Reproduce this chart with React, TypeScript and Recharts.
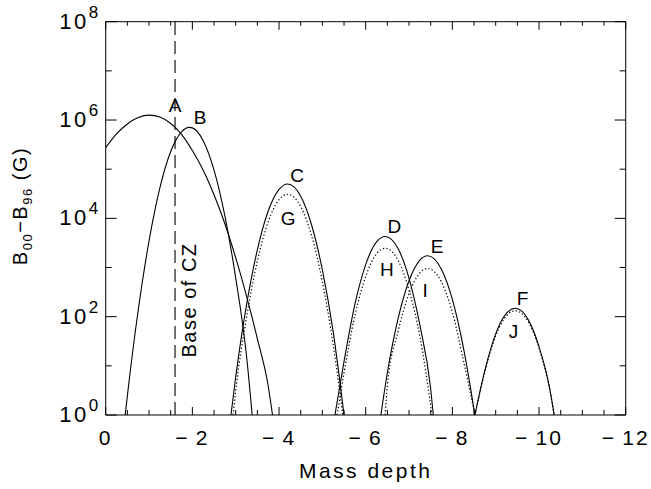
import { LineChart, Line, XAxis, YAxis, ReferenceLine, ReferenceDot } from "recharts";

// mass depth (x) and log10 of field strength (y)
const aDepth = [0, -0.25, -0.5, -0.75, -1.0, -1.25, -1.5, -1.75, -2.0, -2.25, -2.5, -2.75, -3.0, -3.25, -3.5, -3.75, -3.85];
const aLog = [5.44, 5.72, 5.92, 6.05, 6.1, 6.06, 5.93, 5.71, 5.38, 4.98, 4.48, 3.89, 3.2, 2.42, 1.55, 0.59, 0];

const bDepth = [-0.45, -0.5, -0.75, -1.0, -1.25, -1.5, -1.75, -1.93, -2.0, -2.25, -2.5, -2.75, -3.0, -3.25, -3.38];
const bLog = [0, 0.39, 2.13, 3.54, 4.62, 5.36, 5.76, 5.85, 5.84, 5.58, 4.98, 4.05, 2.79, 1.2, 0];

const cDepth = [-2.89, -3.0, -3.25, -3.5, -3.75, -4.0, -4.2, -4.5, -4.75, -5.0, -5.25, -5.5];
const cLog = [0, 0.77, 2.24, 3.36, 4.15, 4.59, 4.7, 4.45, 3.87, 2.95, 1.69, 0];

const gDepth = [-2.94, -3.0, -3.25, -3.5, -3.75, -4.0, -4.2, -4.5, -4.75, -5.0, -5.25, -5.47];
const gLog = [0, 0.49, 1.98, 3.13, 3.93, 4.38, 4.49, 4.24, 3.65, 2.71, 1.43, 0];

const dDepth = [-5.29, -5.5, -5.75, -6.0, -6.25, -6.45, -6.75, -7.0, -7.25, -7.5, -7.56];
const dLog = [0, 1.09, 2.25, 3.06, 3.52, 3.63, 3.38, 2.78, 1.83, 0.53, 0];

const hDepth = [-5.34, -5.5, -5.75, -6.0, -6.25, -6.45, -6.75, -7.0, -7.25, -7.53];
const hLog = [0, 0.86, 2.02, 2.82, 3.28, 3.39, 3.14, 2.54, 1.6, 0];

const eDepth = [-6.35, -6.5, -6.75, -7.0, -7.25, -7.43, -7.75, -8.0, -8.25, -8.52];
const eLog = [0, 0.86, 1.97, 2.73, 3.15, 3.24, 2.96, 2.35, 1.39, 0];

const iDepth = [-6.45, -6.5, -6.75, -7.0, -7.25, -7.43, -7.75, -8.0, -8.25, -8.52];
const iLog = [0, 0.6, 1.71, 2.47, 2.89, 2.98, 2.7, 2.09, 1.13, 0];

const fDepth = [-8.52, -8.75, -9.0, -9.25, -9.45, -9.75, -10.0, -10.25, -10.35];
const fLog = [0, 0.91, 1.65, 2.07, 2.17, 1.94, 1.39, 0.52, 0];

const jDepth = [-8.52, -8.75, -9.0, -9.25, -9.45, -9.75, -10.0, -10.25, -10.35];
const jLog = [0, 0.88, 1.61, 2.02, 2.12, 1.9, 1.36, 0.5, 0];

const curveNames = ["A", "B", "C", "D", "E", "F", "G", "H", "I", "J"];
const nameDepth = [-1.6, -2.18, -4.42, -6.66, -7.65, -9.62, -4.21, -6.49, -7.37, -9.41];
const nameLog = [6.29, 6.06, 4.88, 3.83, 3.42, 2.37, 4.0, 2.95, 2.54, 1.69];

const baseCZ = -1.6;
const xTicks = [0, -0.5, -1, -1.5, -2, -2.5, -3, -3.5, -4, -4.5, -5, -5.5, -6, -6.5, -7, -7.5, -8, -8.5, -9, -9.5, -10, -10.5, -11, -11.5, -12];
const xMajor = [0, -2, -4, -6, -8, -10, -12];
const yTicks = [0, 1, 2, 3, 4, 5, 6, 7, 8];
const yMajor = [0, 2, 4, 6, 8];

const FONT = "'Liberation Sans', sans-serif";

const pts = (xs: number[], ys: number[]) => xs.map((x, i) => ({ x, y: ys[i] }));

// IDL-style minus with a little gap before the digits
const fmtX = (v: number) => (v === 0 ? "0" : "\u2212\u2009" + Math.abs(v));

const BottomTick = (p: any) => {
  const v = p.payload.value;
  const major = xMajor.includes(v);
  return (
    <g>
      <line x1={p.x} x2={p.x} y1={p.y} y2={p.y - (major ? 8 : 5)} stroke="#000" />
      {major && (
        <text x={p.x} y={p.y + 30} textAnchor="middle" fontFamily={FONT} fontSize={21} letterSpacing={2} fill="#000">
          {fmtX(v)}
        </text>
      )}
    </g>
  );
};

const TopTick = (p: any) => {
  const major = xMajor.includes(p.payload.value);
  return <line x1={p.x} x2={p.x} y1={p.y} y2={p.y + (major ? 8 : 4)} stroke="#000" />;
};

const LeftTick = (p: any) => {
  const v = p.payload.value;
  const major = yMajor.includes(v);
  return (
    <g>
      <line x1={p.x} x2={p.x + (major ? 11 : 6)} y1={p.y} y2={p.y} stroke="#000" />
      {major && (
        <text x={p.x - 5} y={p.y + 7} textAnchor="end" fontFamily={FONT} fontSize={22} letterSpacing={2.5} fill="#000">
          <tspan>10</tspan>
          <tspan dy={-11} fontSize={17}>{v}</tspan>
        </text>
      )}
    </g>
  );
};

const RightTick = (p: any) => {
  const major = yMajor.includes(p.payload.value);
  return <line x1={p.x} x2={p.x - (major ? 11 : 6)} y1={p.y} y2={p.y} stroke="#000" />;
};

const curves = [
  { xs: aDepth, ys: aLog, dotted: false },
  { xs: bDepth, ys: bLog, dotted: false },
  { xs: cDepth, ys: cLog, dotted: false },
  { xs: gDepth, ys: gLog, dotted: true },
  { xs: dDepth, ys: dLog, dotted: false },
  { xs: hDepth, ys: hLog, dotted: true },
  { xs: eDepth, ys: eLog, dotted: false },
  { xs: iDepth, ys: iLog, dotted: true },
  { xs: fDepth, ys: fLog, dotted: false },
  { xs: jDepth, ys: jLog, dotted: true },
];

export default function App() {
  return (
    <div style={{ width: 651, height: 489, background: "#fff" }}>
      <style>{"body{margin:0;background:#fff}"}</style>
      <LineChart width={651} height={489} margin={{ top: 0, right: 0, bottom: 0, left: 0 }}>
        <XAxis
          dataKey="x"
          type="number"
          domain={[-12, 0]}
          reversed
          allowDataOverflow
          ticks={xTicks}
          interval={0}
          height={74}
          tickSize={0}
          tickMargin={0}
          stroke="#000"
          tick={BottomTick}
          label={(p: any) => (
            <text
              x={p.viewBox.x + p.viewBox.width / 2}
              y={p.viewBox.y + 63}
              textAnchor="middle"
              fontFamily={FONT}
              fontSize={21}
              letterSpacing={2.5}
              fill="#000"
            >
              Mass depth
            </text>
          )}
        />
        <XAxis
          xAxisId="t"
          orientation="top"
          dataKey="x"
          type="number"
          domain={[-12, 0]}
          reversed
          allowDataOverflow
          ticks={xTicks}
          interval={0}
          height={21.7}
          tickSize={0}
          tickMargin={0}
          stroke="#000"
          tick={TopTick}
        />
        <YAxis
          type="number"
          domain={[0, 8]}
          allowDataOverflow
          ticks={yTicks}
          interval={0}
          width={105.7}
          tickSize={0}
          tickMargin={0}
          stroke="#000"
          tick={LeftTick}
          label={() => {
            const cx = 27;
            const cy = 206;
            return (
              <text
                x={cx}
                y={cy}
                transform={`rotate(-90 ${cx} ${cy})`}
                textAnchor="middle"
                fontFamily={FONT}
                fontSize={20}
                letterSpacing={1.5}
                fill="#000"
              >
                <tspan>B</tspan>
                <tspan dy={5} fontSize={13}>00</tspan>
                <tspan dy={-5}>{"\u2212B"}</tspan>
                <tspan dy={5} fontSize={13}>96</tspan>
                <tspan dy={-5}>{" (G)"}</tspan>
              </text>
            );
          }}
        />
        <YAxis
          yAxisId="r"
          orientation="right"
          type="number"
          domain={[0, 8]}
          allowDataOverflow
          ticks={yTicks}
          interval={0}
          width={25.3}
          tickSize={0}
          tickMargin={0}
          stroke="#000"
          tick={RightTick}
        />
        <ReferenceLine x={baseCZ} stroke="#000" strokeWidth={1.1} strokeDasharray="13 6" />
        {curves.map((c, i) => (
          <Line
            key={i}
            data={pts(c.xs, c.ys)}
            dataKey="y"
            type="monotone"
            dot={false}
            stroke="#000"
            strokeWidth={c.dotted ? 1.2 : 1.1}
            strokeDasharray={c.dotted ? "1.3 2.2" : undefined}
            isAnimationActive={false}
          />
        ))}
        {curveNames.map((n, i) => (
          <ReferenceDot
            key={n}
            x={nameDepth[i]}
            y={nameLog[i]}
            r={0}
            shape={(p: any) => (
              <text x={p.cx} y={p.cy} textAnchor="middle" dominantBaseline="central" fontFamily={FONT} fontSize={19} fill="#000">
                {n}
              </text>
            )}
          />
        ))}
        <ReferenceDot
          x={-1.92}
          y={2.34}
          r={0}
          shape={(p: any) => (
            <text
              x={p.cx}
              y={p.cy}
              transform={`rotate(-90 ${p.cx} ${p.cy})`}
              textAnchor="middle"
              dominantBaseline="central"
              fontFamily={FONT}
              fontSize={20}
              letterSpacing={1.5}
              fill="#000"
            >
              Base of CZ
            </text>
          )}
        />
      </LineChart>
    </div>
  );
}
